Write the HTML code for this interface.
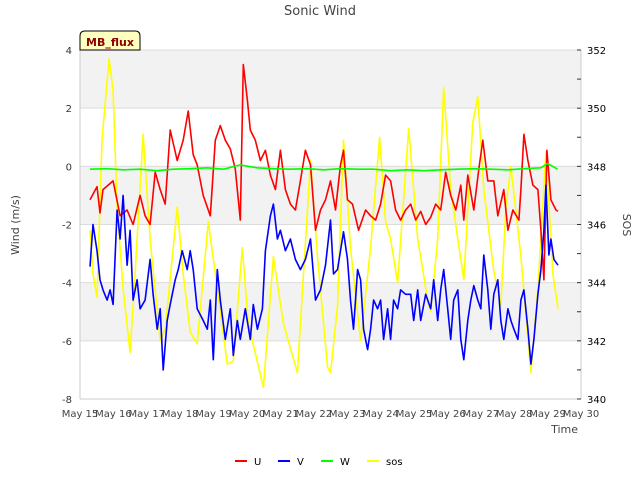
<!DOCTYPE html>
<html><head><meta charset="utf-8"><style>
body{margin:0;background:#fff;}
svg text{font-family:"DejaVu Sans","Liberation Sans",sans-serif;}
</style></head><body>
<svg id="chart" width="640" height="480" xmlns="http://www.w3.org/2000/svg">
<rect width="640" height="480" fill="#fff"/>
<text x="320" y="15" text-anchor="middle" font-size="13" fill="#444">Sonic Wind</text>
<g id="grid"></g>
<g id="axes"></g>
<g id="series"></g>
<g>
<path d="M80,50 L80,36 Q80,31 85,31 L135,31 Q140,31 140,36 L140,50 Z" fill="#ffffc0" stroke="#000" stroke-width="1"/>
<text x="110" y="46" text-anchor="middle" font-size="11" font-weight="bold" fill="#8b0000">MB_flux</text>
</g>
<text transform="translate(19,225) rotate(-90)" text-anchor="middle" font-size="11" fill="#444">Wind (m/s)</text>
<text transform="translate(623,225) rotate(90)" text-anchor="middle" font-size="11" fill="#444">SOS</text>
<text x="578" y="433" text-anchor="end" font-size="11" fill="#444">Time</text>
<g id="legend"></g>
</svg>
<script>
const xTicks=["May 15","May 16","May 17","May 18","May 19","May 20","May 21","May 22","May 23","May 24","May 25","May 26","May 27","May 28","May 29","May 30"];
const yTicks=[-8,-6,-4,-2,0,2,4];
const y2Ticks=[340,342,344,346,348,350,352];
const uT=[0.30,0.51,0.60,0.69,0.99,1.20,1.41,1.59,1.80,1.95,2.10,2.25,2.40,2.55,2.70,2.91,3.09,3.24,3.39,3.51,3.69,3.90,4.05,4.20,4.35,4.50,4.65,4.80,4.89,5.01,5.10,5.25,5.40,5.55,5.70,5.85,6.00,6.15,6.30,6.45,6.60,6.75,6.90,7.05,7.20,7.35,7.50,7.65,7.80,7.89,8.01,8.16,8.34,8.55,8.70,8.85,9.00,9.15,9.30,9.45,9.60,9.75,9.90,10.05,10.20,10.35,10.50,10.65,10.80,10.95,11.10,11.25,11.40,11.49,11.61,11.79,11.94,12.06,12.21,12.39,12.51,12.69,12.81,12.96,13.14,13.20,13.29,13.41,13.56,13.71,13.80,13.89,13.98,14.10,14.25,14.31];
const uV=[-1.15,-0.7,-1.6,-0.8,-0.5,-1.7,-1.5,-2.0,-1.0,-1.7,-2.0,-0.2,-0.8,-1.3,1.25,0.2,0.9,1.9,0.4,0.05,-1.0,-1.7,0.9,1.4,0.9,0.6,-0.1,-1.85,3.5,2.3,1.25,0.9,0.2,0.55,-0.3,-0.8,0.55,-0.8,-1.3,-1.5,-0.5,0.55,0.05,-2.2,-1.5,-1.15,-0.5,-1.5,0.05,0.55,-1.15,-1.3,-2.2,-1.5,-1.7,-1.85,-1.3,-0.3,-0.5,-1.5,-1.85,-1.5,-1.3,-1.85,-1.55,-2.0,-1.75,-1.3,-1.5,-0.2,-1.0,-1.5,-0.65,-1.85,-0.3,-1.5,-0.1,0.9,-0.5,-0.5,-1.7,-0.8,-2.2,-1.5,-1.85,-0.8,1.1,0.2,-0.65,-0.8,-2.2,-3.9,0.55,-1.15,-1.5,-1.55];
const vT=[0.30,0.39,0.51,0.60,0.69,0.81,0.90,0.99,1.11,1.20,1.29,1.41,1.50,1.59,1.71,1.80,1.95,2.10,2.19,2.31,2.40,2.49,2.61,2.70,2.85,2.94,3.06,3.21,3.30,3.39,3.51,3.69,3.81,3.90,3.99,4.11,4.20,4.35,4.50,4.59,4.71,4.80,4.95,5.10,5.19,5.31,5.46,5.55,5.70,5.79,5.91,6.00,6.15,6.30,6.45,6.60,6.75,6.90,7.05,7.20,7.35,7.50,7.59,7.71,7.80,7.89,8.01,8.10,8.19,8.31,8.40,8.49,8.61,8.70,8.79,8.91,9.00,9.09,9.21,9.30,9.39,9.51,9.60,9.75,9.90,9.99,10.11,10.20,10.35,10.50,10.59,10.71,10.80,10.89,11.01,11.10,11.19,11.31,11.40,11.49,11.61,11.70,11.79,11.91,12.00,12.09,12.21,12.30,12.39,12.51,12.60,12.69,12.81,12.90,12.99,13.11,13.20,13.29,13.41,13.50,13.59,13.71,13.80,13.89,13.95,14.04,14.10,14.19,14.31];
const vV=[-3.45,-2.0,-2.9,-3.9,-4.25,-4.6,-4.25,-4.75,-1.5,-2.5,-1.0,-3.4,-2.2,-4.6,-3.9,-4.9,-4.6,-3.2,-4.4,-5.6,-4.9,-7.0,-5.3,-4.75,-3.9,-3.55,-2.9,-3.55,-2.9,-3.55,-4.9,-5.3,-5.6,-4.6,-6.65,-3.55,-4.6,-5.95,-4.9,-6.5,-5.3,-5.95,-4.9,-5.95,-4.75,-5.6,-4.9,-2.9,-1.7,-1.3,-2.5,-2.2,-2.9,-2.5,-3.2,-3.55,-3.2,-2.5,-4.6,-4.25,-3.4,-1.85,-3.7,-3.55,-2.9,-2.25,-3.2,-4.6,-5.6,-3.55,-3.9,-5.6,-6.3,-5.6,-4.6,-4.9,-4.6,-5.95,-4.9,-5.95,-4.6,-4.9,-4.25,-4.4,-4.4,-5.3,-4.25,-5.3,-4.4,-4.9,-3.9,-5.3,-4.25,-3.55,-4.9,-5.95,-4.6,-4.25,-5.95,-6.65,-5.3,-4.6,-4.1,-4.6,-4.9,-3.05,-4.25,-5.6,-4.4,-3.9,-5.3,-5.95,-4.9,-5.3,-5.6,-5.95,-4.6,-4.25,-5.6,-6.8,-5.95,-4.4,-3.55,-2.2,-0.65,-3.05,-2.5,-3.2,-3.4];
const wT=[0.3,0.8,1.3,1.8,2.3,2.8,3.3,3.8,4.3,4.8,5.3,5.8,6.3,6.8,7.3,7.8,8.3,8.8,9.3,9.8,10.3,10.8,11.3,11.8,12.3,12.8,13.3,13.8,14.0,14.3];
const wV=[-0.1,-0.08,-0.12,-0.1,-0.15,-0.1,-0.08,-0.05,-0.1,0.05,-0.05,-0.08,-0.1,-0.08,-0.12,-0.08,-0.1,-0.1,-0.15,-0.12,-0.15,-0.12,-0.1,-0.08,-0.1,-0.12,-0.08,-0.05,0.1,-0.1];
const sT=[0.30,0.39,0.51,0.66,0.87,0.99,1.11,1.29,1.50,1.65,1.89,2.10,2.40,2.55,2.91,3.09,3.30,3.51,3.84,4.05,4.41,4.59,4.86,5.04,5.49,5.79,6.09,6.51,6.90,7.11,7.41,7.50,7.71,7.89,8.10,8.40,8.70,8.97,9.15,9.30,9.51,9.84,10.11,10.41,10.50,10.71,10.89,11.10,11.31,11.49,11.76,11.91,12.09,12.39,12.60,12.75,12.90,13.20,13.50,13.71,13.95,14.16,14.31];
const sV=[345.8,344.3,343.5,348.9,351.7,350.6,346.6,343.8,341.6,344.3,349.1,345.5,342.0,342.4,346.6,344.3,342.3,341.9,346.1,344.3,341.2,341.3,345.2,342.6,340.4,344.9,342.6,340.9,348.2,344.9,341.1,340.9,343.2,348.9,345.2,342.0,345.2,349.0,346.1,345.5,344.0,349.3,345.5,343.4,343.0,345.5,350.7,347.2,345.5,344.1,349.5,350.4,347.2,344.4,343.2,346.6,348.0,344.9,340.9,343.8,348.5,344.3,343.1];

const L=80,R=581,T=50,B=399;
const NS="http://www.w3.org/2000/svg";
function X(d){return L+d*(R-L)/15;}
function Y(v){return B-(v+8)*(B-T)/12;}
function Y2(v){return B-(v-340)*(B-T)/12;}
function mk(tag,attrs,parent){const e=document.createElementNS(NS,tag);for(const k in attrs)e.setAttribute(k,attrs[k]);parent.appendChild(e);return e;}
const grid=document.getElementById('grid'),axes=document.getElementById('axes'),ser=document.getElementById('series'),leg=document.getElementById('legend');
// bands
[[2,4],[-2,0],[-6,-4]].forEach(b=>{
  const r=mk('rect',{x:L,y:Y(b[1]),width:R-L,height:Y(b[0])-Y(b[1]),fill:'#f2f2f2'},grid);
  
  
});
yTicks.forEach(v=>{
  const ln=mk('line',{x1:L,x2:R,y1:Y(v),y2:Y(v),stroke:'#dcdcdc','stroke-width':1},grid);
  
  
  const t=mk('text',{x:L-8,y:Y(v)+4,'text-anchor':'end','font-size':10,fill:'#333'},axes);
  t.textContent=v;
  
  
});
mk('line',{x1:L,x2:L,y1:T,y2:B,stroke:'#ccc'},axes);
mk('line',{x1:R,x2:R,y1:T,y2:B,stroke:'#ccc'},axes);
mk('line',{x1:L,x2:R,y1:B,y2:B,stroke:'#ccc'},axes);
y2Ticks.forEach(v=>{
  const t=mk('text',{x:R+6,y:Y2(v)+4,'font-size':10,fill:'#000'},axes);
  t.textContent=v;
  
  
});
for(let v=340;v<=352;v++){mk('line',{x1:R-4,x2:R,y1:Y2(v),y2:Y2(v),stroke:'#333'},axes);}
xTicks.forEach((s,i)=>{
  const t=mk('text',{x:X(i),y:417,'text-anchor':'middle','font-size':10,fill:'#444'},axes);
  t.textContent=s;
  
  
});
function line(ts,vs,yf,color,name){
  const d=ts.map((t,i)=>(i?'L':'M')+X(t).toFixed(1)+','+yf(vs[i]).toFixed(1)).join(' ');
  const p=mk('path',{d:d,fill:'none',stroke:color,'stroke-width':1.6,'stroke-linejoin':'round'},ser);
  
  
}
line(sT,sV,Y2,'#ffff00','sos-line');
line(uT,uV,Y,'#ff0000','u-line');
line(vT,vV,Y,'#0000ff','v-line');
line(wT,wV,Y,'#00ff00','w-line');
[['U','#ff0000',235],['V','#0000ff',278],['W','#00ff00',321],['sos','#ffff00',367]].forEach(l=>{
  const g=mk('g',{},leg);
  
  
  mk('line',{x1:l[2],x2:l[2]+12,y1:461,y2:461,stroke:l[1],'stroke-width':2},g);
  const t=mk('text',{x:l[2]+19,y:465,'font-size':10,fill:'#000'},g);
  t.textContent=l[0];
});
</script>
</body></html>
